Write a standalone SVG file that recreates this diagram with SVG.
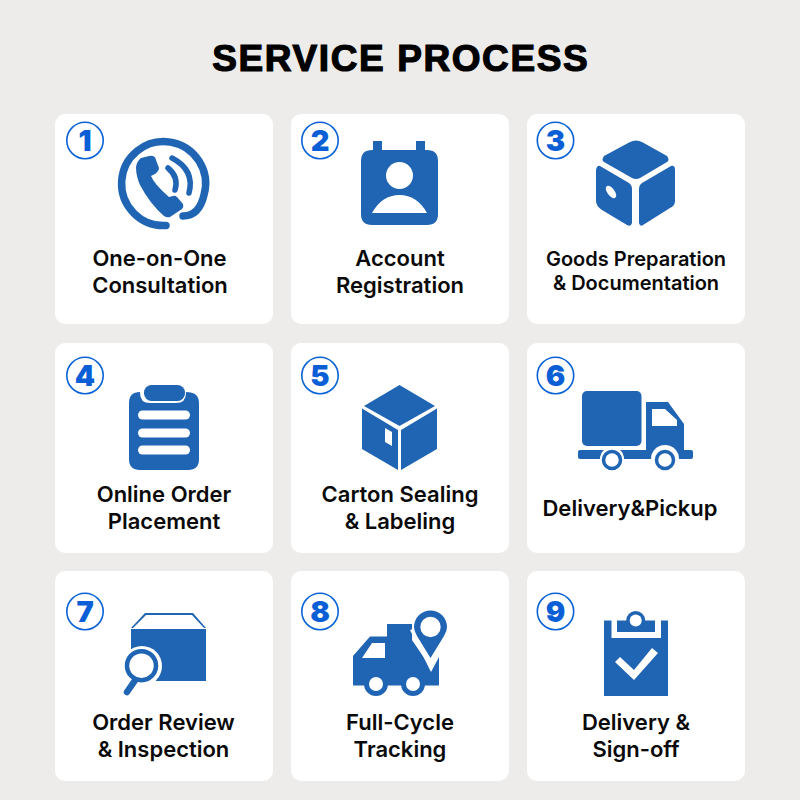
<svg xmlns="http://www.w3.org/2000/svg" width="800" height="800" viewBox="0 0 800 800">
<style>
.card{fill:#fff}
.badge{fill:#fff;stroke:#0a63d6;stroke-width:1.600}
.num{font-family:Inter,"Liberation Sans",sans-serif;font-weight:900;font-size:29px;fill:#0a5fd6;text-anchor:middle}
.lab{font-family:Inter,"Liberation Sans",sans-serif;font-weight:600;font-size:22px;fill:#0a0a0a;text-anchor:middle}
.sm{font-size:20px}
.ic{fill:#2064b4}
.w{fill:#fff}
.ln{fill:none;stroke:#2064b4;stroke-linecap:round}
</style>
<rect width="800" height="800" fill="#edecea"/>
<text x="400.800" y="71" text-anchor="middle" font-family="'Liberation Sans',Arial,sans-serif" font-weight="700" font-size="37" letter-spacing="1.600" fill="#000" stroke="#000" stroke-width="1.200">SERVICE PROCESS</text>

<g id="node1">
<rect class="card" x="55" y="114" width="218" height="210" rx="10"/>
<circle class="badge" cx="85" cy="140.500" r="18.200"/><text class="num" x="85" y="151">1</text>
<path class="ln" stroke-width="7.500" d="M166 225.500A42 42 0 1 1 204 195C201 208 194 216 183 216"/>
<path class="ic" d="M136 167Q137 161 141 158L149 156Q155 155 156 160L159 168Q159 171 155 174L151 176Q154 184 169 197L173 196Q175 195 177 197L183 204Q184 207 182 209L170 217Q167 218 164 216Q150 204 140 185Q136 176 136 167Z"/>
<path class="ln" stroke-width="5.500" d="M168 168Q179 177 175 190"/>
<path class="ln" stroke-width="5.500" d="M172 158Q195 170 189 193"/>
<text class="lab" x="159.500" y="265.500">One-on-One</text><text class="lab" x="160" y="292.500">Consultation</text>
</g>

<g id="node2">
<rect class="card" x="291" y="114" width="218" height="210" rx="10"/>
<circle class="badge" cx="320" cy="140.500" r="18.200"/><text class="num" x="320" y="151">2</text>
<path class="ic" d="M373 150V141H382V150H416V141H425V150H427Q438 150 438 161V214Q438 225 427 225H372Q361 225 361 214V161Q361 150 372 150Z"/>
<circle class="w" cx="399.500" cy="175.500" r="13.500"/>
<path class="w" d="M372 213Q382 195 399.500 195Q417 195 427 213Z"/>
<text class="lab" x="400" y="265.500">Account</text><text class="lab" x="400" y="292.500">Registration</text>
</g>

<g id="node3">
<rect class="card" x="527" y="114" width="218" height="210" rx="10"/>
<circle class="badge" cx="555.500" cy="140.500" r="18.200"/><text class="num" x="555.500" y="151">3</text>
<path class="ic" d="M630 142Q636 139 642 142L667 156Q670 160 667 162L640 178Q636 180 632 178L604 162Q601 160 604 156Z"/>
<path class="ic" fill-rule="evenodd" d="M600 166L629 183Q632 185 632 189V223Q631 227 627 225L602 210Q596 206 596 201V170Q597 165 600 166ZM607 186Q604 188 608 194Q612 199 615 198Q618 196 614 190Q610 185 607 186Z"/>
<path class="ic" d="M671 166Q675 165 675 170V201Q675 206 670 208L643 225Q640 227 639 223V189Q639 185 642 183Z"/>
<text class="lab sm" x="636" y="266">Goods Preparation</text><text class="lab sm" x="636" y="290">&amp; Documentation</text>
</g>

<g id="node4">
<rect class="card" x="55" y="343" width="218" height="210" rx="10"/>
<circle class="badge" cx="85" cy="375.500" r="18.200"/><text class="num" x="85" y="386">4</text>
<path class="ic" d="M140 392V393Q140 403 150 403H176Q186 403 186 393V392Q199 392 199 403V459Q199 470 188 470H140Q129 470 129 459V403Q129 392 140 392Z"/>
<rect class="ic" x="144" y="385" width="41" height="16" rx="7.500"/>
<rect class="w" x="138" y="410.500" width="52" height="9" rx="4.500"/>
<rect class="w" x="138" y="428.500" width="52" height="9" rx="4.500"/>
<rect class="w" x="138" y="445.500" width="52" height="9" rx="4.500"/>
<text class="lab" x="164" y="501.500">Online Order</text><text class="lab" x="164" y="528.500">Placement</text>
</g>

<g id="node5">
<rect class="card" x="291" y="343" width="218" height="210" rx="10"/>
<circle class="badge" cx="320" cy="375.500" r="18.200"/><text class="num" x="320" y="386">5</text>
<path class="ic" d="M399.500 385L435 406L399.500 426L364 406Z"/>
<path class="ic" fill-rule="evenodd" d="M362 408.500L398 430V470L362 449ZM385 428V442L392 446V432Z"/>
<path class="ic" d="M437 408.500V449L401 470V430Z"/>
<text class="lab" x="400" y="501.500">Carton Sealing</text><text class="lab" x="400" y="528.500">&amp; Labeling</text>
</g>

<g id="node6">
<rect class="card" x="527" y="343" width="218" height="210" rx="10"/>
<circle class="badge" cx="555.500" cy="375.500" r="18.200"/><text class="num" x="555.500" y="386">6</text>
<rect class="ic" x="582" y="391" width="59.500" height="55" rx="5"/>
<path class="ic" fill-rule="evenodd" d="M646 402H668L684 424V450H646ZM652 409V426H677V420L665 409Z"/>
<rect class="ic" x="578" y="450" width="115" height="9" rx="2"/>
<circle class="w" cx="612" cy="459" r="12"/>
<circle class="w" cx="665" cy="459" r="14"/>
<circle cx="612" cy="460" r="8.500" fill="#fff" stroke="#2064b4" stroke-width="3.500"/>
<circle cx="665" cy="460" r="8.500" fill="#fff" stroke="#2064b4" stroke-width="3.500"/>
<text class="lab" x="630" y="515.500">Delivery&amp;Pickup</text>
</g>

<g id="node7">
<rect class="card" x="55" y="571" width="218" height="210" rx="10"/>
<circle class="badge" cx="85" cy="611.500" r="18.200"/><text class="num" x="85" y="622">7</text>
<path class="ic" d="M131 628L145 613H193L206 628H204L192 615H146L133 628Z"/>
<path class="ic" d="M131 629H206V681H131Z"/>
<circle class="w" cx="142" cy="666" r="20"/>
<path class="ln" stroke-width="6.500" d="M127 692L136 679"/>
<circle cx="141.500" cy="665.700" r="14.500" fill="#fff" stroke="#2064b4" stroke-width="4.500"/>
<text class="lab" x="163.500" y="729.500">Order Review</text><text class="lab" x="163.500" y="756.500">&amp; Inspection</text>
</g>

<g id="node8">
<rect class="card" x="291" y="571" width="218" height="210" rx="10"/>
<circle class="badge" cx="320" cy="611.500" r="18.200"/><text class="num" x="320" y="622">8</text>
<path class="ic" fill-rule="evenodd" d="M387 624H412V640L431 668L439 653V685.500H353V656L370 636.500H387ZM372 643L362 658H385V643Z"/>
<circle class="ic" cx="376" cy="684" r="12"/>
<circle class="ic" cx="413" cy="684" r="12"/>
<circle class="w" cx="376" cy="684" r="7"/>
<circle class="w" cx="413" cy="684" r="7"/>
<path class="w" d="M410 630L431 672L448 640L440 620Z"/>
<path class="ic" fill-rule="evenodd" d="M430.500 658L417 636Q414 631 414 627A16.500 16.500 0 1 1 447 627Q447 631 444 636ZM420.300 627A10.200 10.200 0 1 0 440.700 627A10.200 10.200 0 1 0 420.300 627Z"/>
<text class="lab" x="400" y="729.500">Full-Cycle</text><text class="lab" x="400" y="756.500">Tracking</text>
</g>

<g id="node9">
<rect class="card" x="527" y="571" width="218" height="210" rx="10"/>
<circle class="badge" cx="555.500" cy="611.500" r="18.200"/><text class="num" x="555.500" y="622">9</text>
<path class="ic" d="M604 620.500H611.500V638H661V620.500H668V696H604Z"/>
<circle class="ic" cx="635.700" cy="620.500" r="9.500"/>
<rect class="ic" x="617" y="620.500" width="38" height="11.500"/>
<circle class="w" cx="635.700" cy="620.500" r="6"/>
<path class="w" d="M615 662L620 657L634 670L652 648L658 653L634 680Z"/>
<text class="lab" x="636" y="729.500">Delivery &amp;</text><text class="lab" x="636" y="756.500">Sign-off</text>
</g>
</svg>
